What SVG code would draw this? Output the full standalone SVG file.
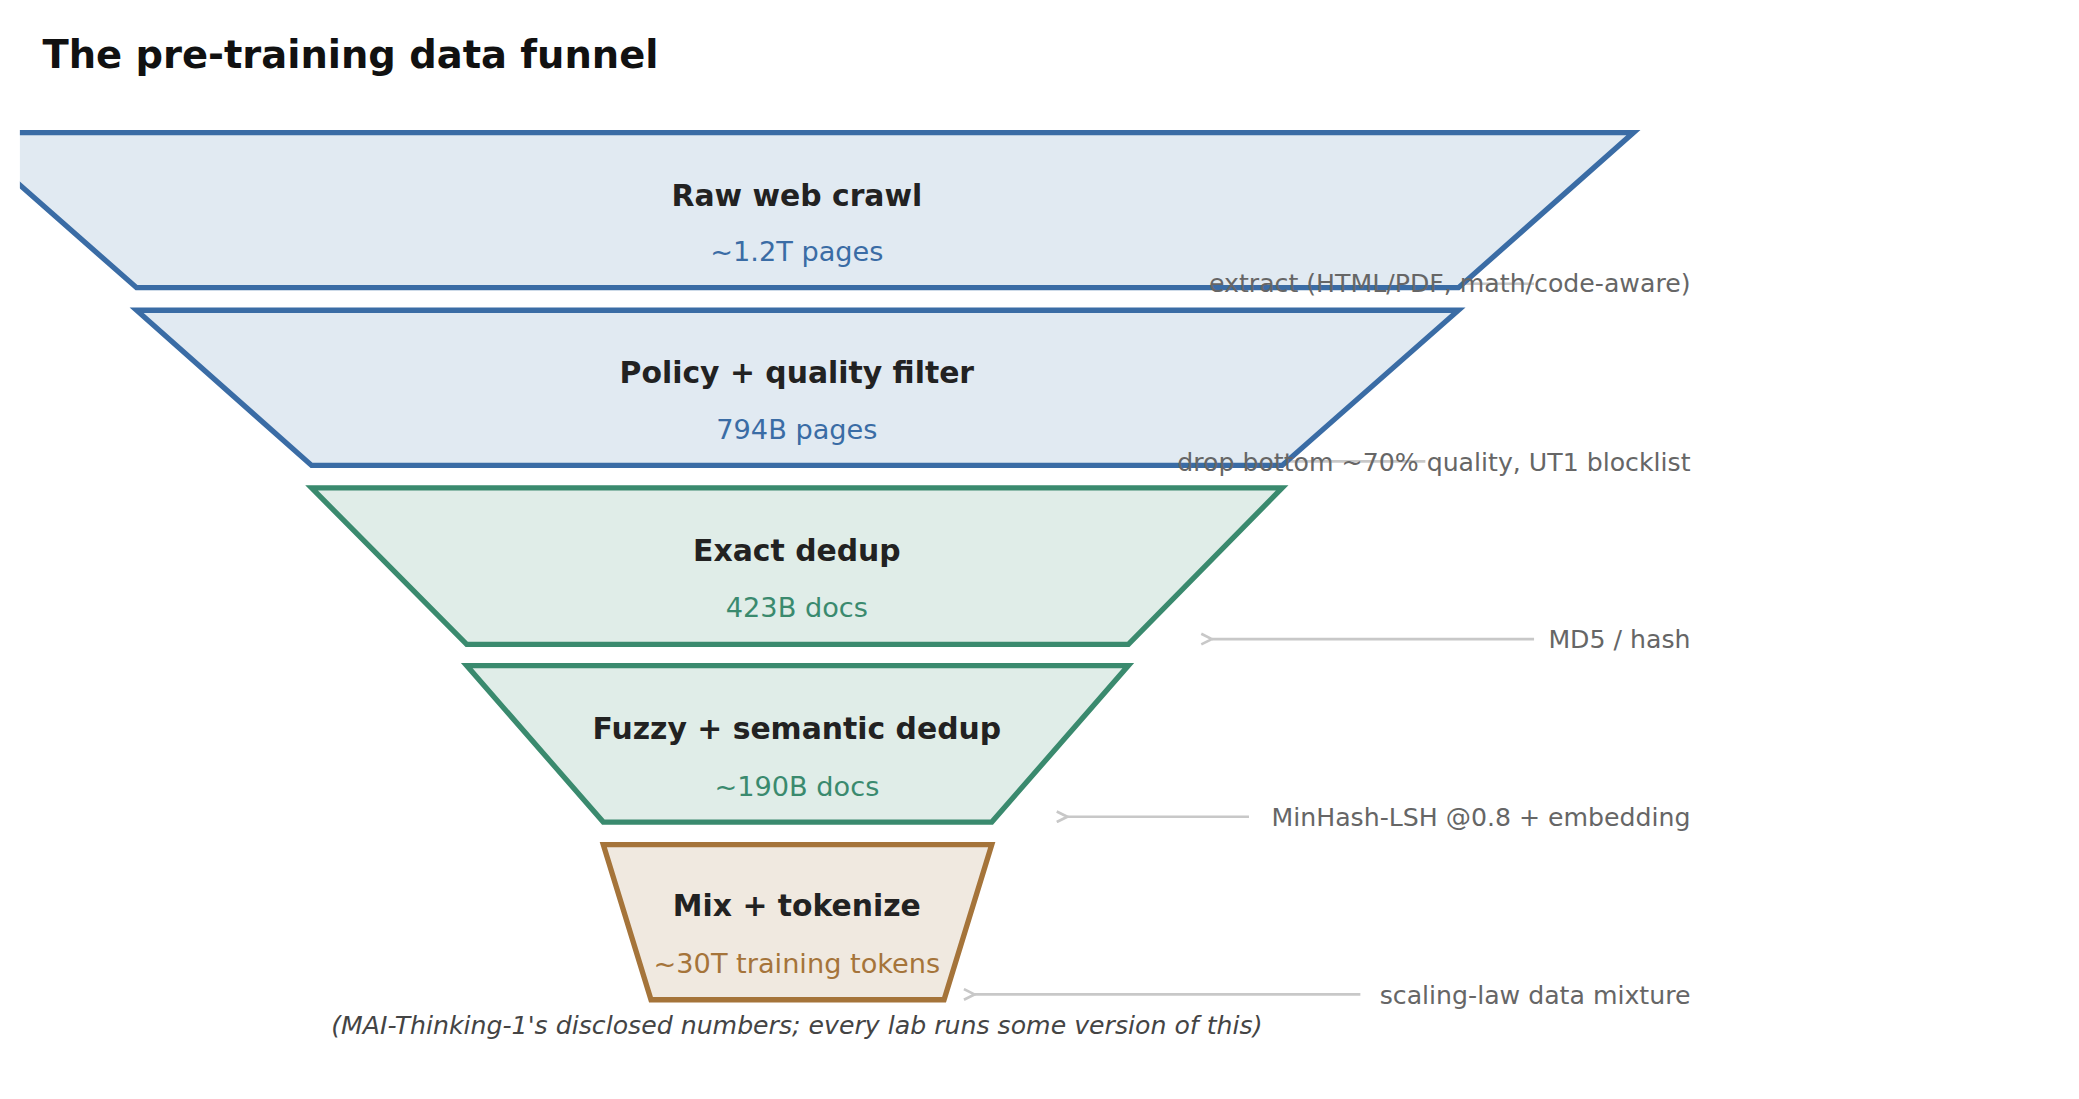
<svg xmlns="http://www.w3.org/2000/svg" width="2079" height="1099" viewBox="0 0 2079 1099">
<style>
text{font-family:"DejaVu Sans","Noto Sans",sans-serif}
.t{font-weight:bold;font-size:22.5px;fill:#222;text-anchor:middle}
.s{font-size:20.5px;text-anchor:middle}
.a{font-size:19px;fill:#666;text-anchor:end}
.blue{fill:#e1eaf2;stroke:#3a6ca5;stroke-width:4}
.green{fill:#e0ede8;stroke:#3a8a6e;stroke-width:4}
.brown{fill:#f0e9e0;stroke:#a5743a;stroke-width:4}
.c{stroke:#c8c8c8;stroke-width:2;fill:none}
</style>
<defs>
<marker id="ah" markerWidth="10" markerHeight="10" refX="1" refY="5" orient="auto" markerUnits="userSpaceOnUse"><path d="M9,1 L1,5 L9,9" fill="none" stroke="#c8c8c8" stroke-width="2"/></marker>
<clipPath id="cl"><rect x="15" y="0" width="1600" height="900"/></clipPath>
</defs>
<rect width="2079" height="1099" fill="#fff"/>
<g transform="scale(1.3259)">
<text x="32" y="51" style="font-size:29px;font-weight:bold;fill:#111">The pre-training data funnel</text>
<g id="connectors">
<line class="c" x1="1157" y1="214" x2="1102" y2="214" marker-end="url(#ah)"/>
<line class="c" x1="1075" y1="348" x2="970" y2="348" marker-end="url(#ah)"/>
<line class="c" x1="1157" y1="482" x2="914" y2="482" marker-end="url(#ah)"/>
<line class="c" x1="942" y1="616" x2="805" y2="616" marker-end="url(#ah)"/>
<line class="c" x1="1026" y1="750" x2="735" y2="750" marker-end="url(#ah)"/>
</g>
<g id="n1"><polygon class="blue" clip-path="url(#cl)" points="-30,100 1232,100 1100,217 103,217"/>
<text class="t" x="601" y="155">Raw web crawl</text><text class="s" x="601" y="197" fill="#3a6ca5">~1.2T pages</text></g>
<g id="n2"><polygon class="blue" points="103,234 1100,234 967,351 235,351"/>
<text class="t" x="601" y="289">Policy + quality filter</text><text class="s" x="601" y="331" fill="#3a6ca5">794B pages</text></g>
<g id="n3"><polygon class="green" points="235,368 967,368 851,486 352,486"/>
<text class="t" x="601" y="423">Exact dedup</text><text class="s" x="601" y="465" fill="#3a8a6e">423B docs</text></g>
<g id="n4"><polygon class="green" points="352,502 851,502 748,620 455,620"/>
<text class="t" x="601" y="557">Fuzzy + semantic dedup</text><text class="s" x="601" y="600" fill="#3a8a6e">~190B docs</text></g>
<g id="n5"><polygon class="brown" points="455,637 748,637 712,754 491,754"/>
<text class="t" x="601" y="691">Mix + tokenize</text><text class="s" x="601" y="734" fill="#a5743a">~30T training tokens</text></g>
<g id="labels">
<text class="a" x="1275" y="220">extract (HTML/PDF, math/code-aware)</text>
<text class="a" x="1275" y="355">drop bottom ~70% quality, UT1 blocklist</text>
<text class="a" x="1275" y="489">MD5 / hash</text>
<text class="a" x="1275" y="623">MinHash-LSH @0.8 + embedding</text>
<text class="a" x="1275" y="757">scaling-law data mixture</text>
<text x="601" y="780" style="font-size:19px;font-style:italic;fill:#444;text-anchor:middle">(MAI-Thinking-1's disclosed numbers; every lab runs some version of this)</text>
</g>
</g>
</svg>
